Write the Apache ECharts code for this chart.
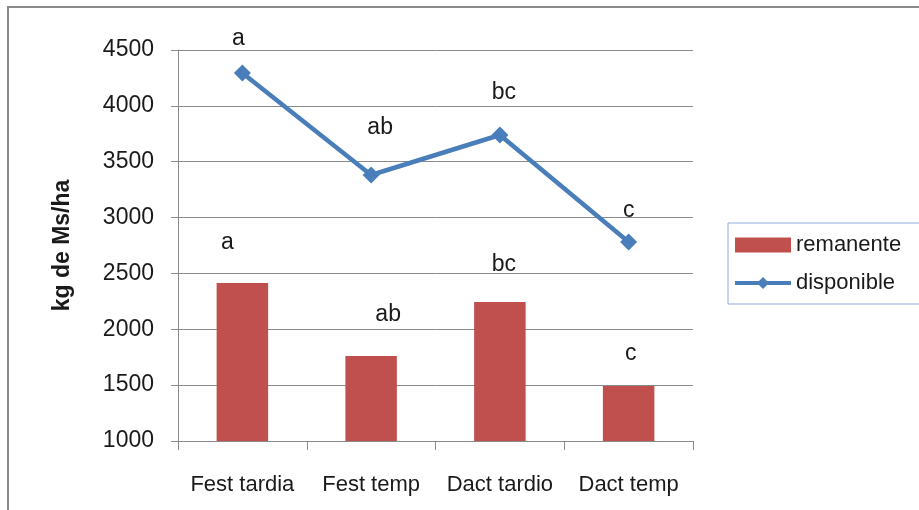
<!DOCTYPE html>
<html>
<head>
<meta charset="utf-8">
<script src="https://cdn.jsdelivr.net/npm/echarts@6/dist/echarts.min.js"></script>
<style>
html,body{margin:0;padding:0;background:#fff;}
#c{width:919px;height:510px;}
</style>
</head>
<body>
<div id="c"></div>
<script>
const categories = ['Fest tardia', 'Fest temp', 'Dact tardio', 'Dact temp'];
const remanente = [2414, 1761, 2244, 1492];
const disponible = [4294, 3381, 3739, 2781];
const remanenteLetters = ['a', 'ab', 'bc', 'c'];
const disponibleLetters = ['a', 'ab', 'bc', 'c'];
const yTicks = [1000, 1500, 2000, 2500, 3000, 3500, 4000, 4500];

// label placement styles (not data)
const barLabelStyle = [[-15, 29], [17, 30], [4, 26], [2, 21]];
const lineLabelStyle = [[-4, 14], [9, 27], [4, 22], [0, 11]];

const FONT = 'Liberation Sans';
const TXT = '#1a1a1a';

const chart = echarts.init(document.getElementById('c'), null, {renderer: 'canvas'});
chart.setOption({
  animation: false,
  backgroundColor: '#ffffff',
  textStyle: {fontFamily: FONT},
  graphic: [{
    type: 'rect',
    shape: {x: 8, y: 7, width: 1000, height: 600},
    style: {fill: 'none', stroke: '#8a8a8a', lineWidth: 2},
    silent: true
  }],
  grid: {left: 178, right: 226, top: 50, bottom: 69},
  legend: {
    orient: 'vertical',
    left: 728, top: 223,
    padding: [11, 20, 10, 5],
    itemGap: 16,
    itemWidth: 56, itemHeight: 15,
    borderColor: '#8eaadb', borderWidth: 1,
    textStyle: {fontFamily: FONT, fontSize: 22, color: TXT},
    lineStyle: {width: 4},
    data: [{name: 'remanente', icon: 'rect'}, {name: 'disponible'}]
  },
  xAxis: {
    type: 'category',
    data: categories,
    axisLine: {lineStyle: {color: '#8a8a8a', width: 1}},
    axisTick: {show: true, interval: 0, length: 9, lineStyle: {color: '#8a8a8a'}},
    axisLabel: {fontFamily: FONT, fontSize: 22, color: TXT, margin: 33, interval: 0, hideOverlap: false},
    splitLine: {show: false}
  },
  yAxis: {
    type: 'value',
    min: yTicks[0], max: yTicks[yTicks.length - 1], interval: 500,
    name: 'kg de Ms/ha',
    nameLocation: 'middle',
    nameGap: 104,
    nameRotate: 90,
    nameTextStyle: {fontFamily: FONT, fontSize: 23, fontWeight: 'bold', color: TXT},
    axisLine: {show: true, lineStyle: {color: '#8a8a8a'}},
    axisTick: {show: true, length: 7, lineStyle: {color: '#8a8a8a'}},
    axisLabel: {fontFamily: FONT, fontSize: 23, color: TXT, margin: 24, padding: [3, 0, 0, 0], formatter: v => String(v)},
    splitLine: {lineStyle: {color: '#8a8a8a', width: 1}}
  },
  series: [
    {
      name: 'remanente',
      type: 'bar',
      barWidth: '40%',
      itemStyle: {color: '#C0504D'},
      data: remanente.map((v, i) => ({
        value: v,
        label: {
          show: true, position: 'top',
          distance: barLabelStyle[i][1], offset: [barLabelStyle[i][0], 0],
          formatter: remanenteLetters[i],
          fontFamily: FONT, fontSize: 23, color: TXT
        }
      }))
    },
    {
      name: 'disponible',
      type: 'line',
      symbol: 'diamond',
      symbolSize: 17,
      lineStyle: {color: '#4A7EBB', width: 4.5},
      itemStyle: {color: '#4A7EBB'},
      data: disponible.map((v, i) => ({
        value: v,
        label: {
          show: true, position: 'top',
          distance: lineLabelStyle[i][1], offset: [lineLabelStyle[i][0], 0],
          formatter: disponibleLetters[i],
          fontFamily: FONT, fontSize: 23, color: TXT
        }
      }))
    }
  ]
});
</script>
</body>
</html>
